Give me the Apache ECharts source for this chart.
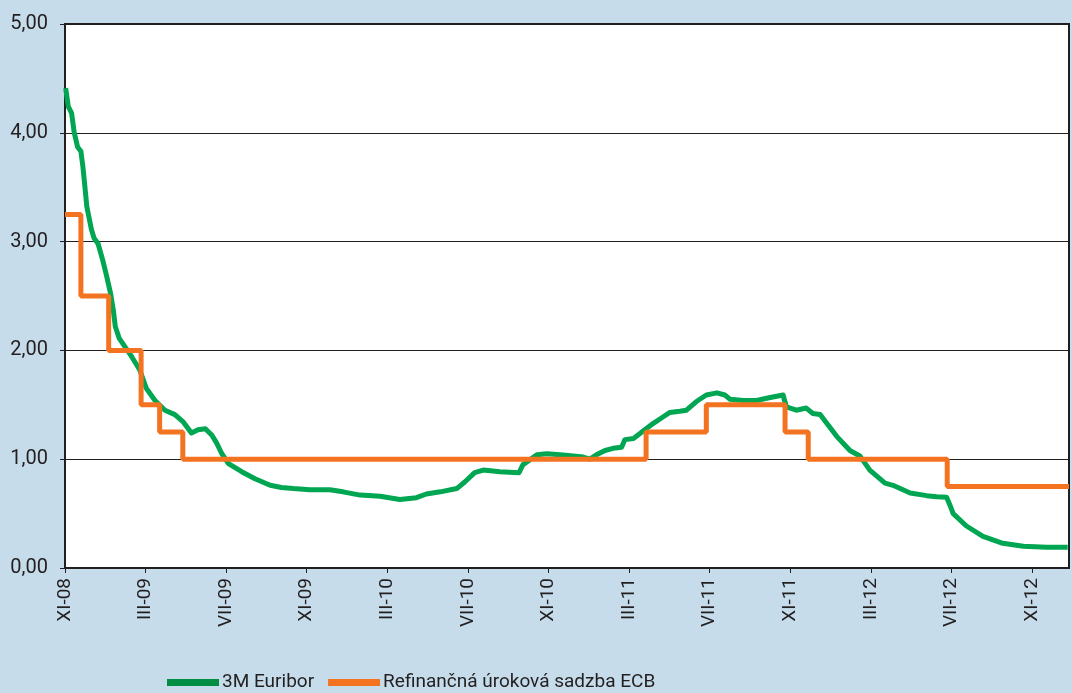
<!DOCTYPE html>
<html>
<head>
<meta charset="utf-8">
<script src="https://cdn.jsdelivr.net/npm/echarts@6/dist/echarts.min.js"></script>
<style>
html,body{margin:0;padding:0;background:#c6dcea;}
#chart{width:1072px;height:693px;}
</style>
</head>
<body>
<div id="chart"></div>
<script>
// Axis origin: 2008-11-16 (day 0); x values are days since origin
const originDate = '2008-11-16';
const xTickLabels = ['XI-08','III-09','VII-09','XI-09','III-10','VII-10','XI-10','III-11','VII-11','XI-11','III-12','VII-12','XI-12'];
const yTickValues = [0, 1, 2, 3, 4, 5];

// ECB main refinancing rate: change dates and new levels
const ecbDates = ['2008-11-16','2008-12-10','2009-01-21','2009-03-11','2009-04-08','2009-05-13','2011-04-13','2011-07-13','2011-11-09','2011-12-14','2012-07-11','2013-01-11'];
const ecbRates = [3.25, 2.50, 2.00, 1.50, 1.25, 1.00, 1.25, 1.50, 1.25, 1.00, 0.75, 0.75];

// 3M Euribor: days since origin and values
const euriborDays = [1,5,10,14,19,24,27,29,33,37,40,44,50,57,63,69,73,76,82,91,101,113,123,136,151,166,179,191,201,212,222,229,237,247,267,287,310,327,345,370,400,420,446,476,506,531,546,567,592,604,619,632,657,686,692,713,728,748,768,783,793,803,816,828,841,846,859,876,889,904,914,929,939,954,969,985,997,1005,1025,1045,1060,1085,1090,1105,1120,1130,1141,1151,1166,1186,1201,1216,1239,1251,1277,1302,1317,1332,1337,1342,1362,1387,1417,1448,1483,1515];
const euriborVals = [4.41,4.24,4.18,4.00,3.87,3.83,3.69,3.57,3.32,3.20,3.11,3.03,2.98,2.83,2.68,2.52,2.37,2.22,2.11,2.03,1.94,1.82,1.65,1.54,1.45,1.41,1.34,1.24,1.27,1.28,1.22,1.15,1.05,0.96,0.885,0.82,0.76,0.74,0.73,0.72,0.72,0.70,0.67,0.66,0.63,0.646,0.68,0.70,0.73,0.79,0.876,0.90,0.885,0.876,0.95,1.04,1.05,1.04,1.03,1.02,1.00,1.04,1.08,1.10,1.11,1.18,1.19,1.27,1.33,1.39,1.43,1.44,1.45,1.53,1.59,1.61,1.59,1.55,1.54,1.54,1.56,1.59,1.48,1.45,1.47,1.42,1.41,1.33,1.21,1.08,1.03,0.90,0.78,0.76,0.69,0.665,0.655,0.65,0.58,0.50,0.386,0.29,0.227,0.20,0.19,0.19];

const seriesNames = ['3M Euribor', 'Refinančná úroková sadzba ECB'];

const X_INTERVAL = 121.75;
const X_MAX = 1517;

function dayIndex(s) {
  const p = s.split('-').map(Number);
  const o = originDate.split('-').map(Number);
  return Math.round((Date.UTC(p[0], p[1]-1, p[2]) - Date.UTC(o[0], o[1]-1, o[2])) / 86400000);
}

const ecbData = ecbDates.map((d, i) => [Math.min(dayIndex(d), X_MAX), ecbRates[i]]);
const euriborData = euriborDays.map((d, i) => [d, euriborVals[i]]);

const chart = echarts.init(document.getElementById('chart'), null, {renderer: 'canvas'});
const textColor = '#231f20';
chart.setOption({
  backgroundColor: '#c6dcea',
  animation: false,
  grid: {
    left: 65, right: 3, top: 24, bottom: 125,
    show: true, backgroundColor: '#ffffff', borderColor: '#231f20', borderWidth: 2
  },
  legend: {
    left: 162, top: 668,
    icon: 'rect', itemWidth: 52, itemHeight: 7, itemGap: 14,
    textStyle: {fontFamily: 'Roboto', fontSize: 19, color: textColor, padding: [0,0,0,-2]},
    data: [
      {name: seriesNames[0], itemStyle: {color: '#008d44'}},
      {name: seriesNames[1], itemStyle: {color: '#f47321'}}
    ]
  },
  xAxis: {
    type: 'value', min: 0, max: X_MAX, interval: X_INTERVAL,
    axisLine: {show: true, lineStyle: {color: '#231f20', width: 2}},
    axisTick: {show: true, length: 5, lineStyle: {color: '#231f20', width: 1}},
    splitLine: {show: false},
    axisLabel: {
      rotate: 90, margin: 10, showMaxLabel: false,
      fontFamily: 'Roboto', fontSize: 19, color: textColor,
      formatter: v => {
        const i = Math.round(v / X_INTERVAL);
        return (Math.abs(v - i * X_INTERVAL) < 1 && xTickLabels[i]) ? xTickLabels[i] : '';
      }
    }
  },
  yAxis: {
    type: 'value', min: yTickValues[0], max: yTickValues[yTickValues.length-1], interval: 1,
    axisLine: {show: true, lineStyle: {color: '#231f20', width: 2}},
    axisTick: {show: true, length: 5, lineStyle: {color: '#231f20', width: 1}},
    splitLine: {show: true, lineStyle: {color: '#231f20', width: 1}},
    axisLabel: {
      margin: 17, fontFamily: 'Roboto', fontSize: 20, color: textColor,
      formatter: v => v.toFixed(2).replace('.', ',')
    }
  },
  series: [
    {
      name: seriesNames[0], type: 'line', data: euriborData,
      symbol: 'none', smooth: false, z: 2,
      lineStyle: {color: '#00a651', width: 5, join: 'round'},
      itemStyle: {color: '#008d44'}
    },
    {
      name: seriesNames[1], type: 'line', data: ecbData, step: 'end',
      symbol: 'none', z: 3,
      lineStyle: {color: '#f47321', width: 5},
      itemStyle: {color: '#f47321'}
    }
  ]
});
</script>
</body>
</html>
